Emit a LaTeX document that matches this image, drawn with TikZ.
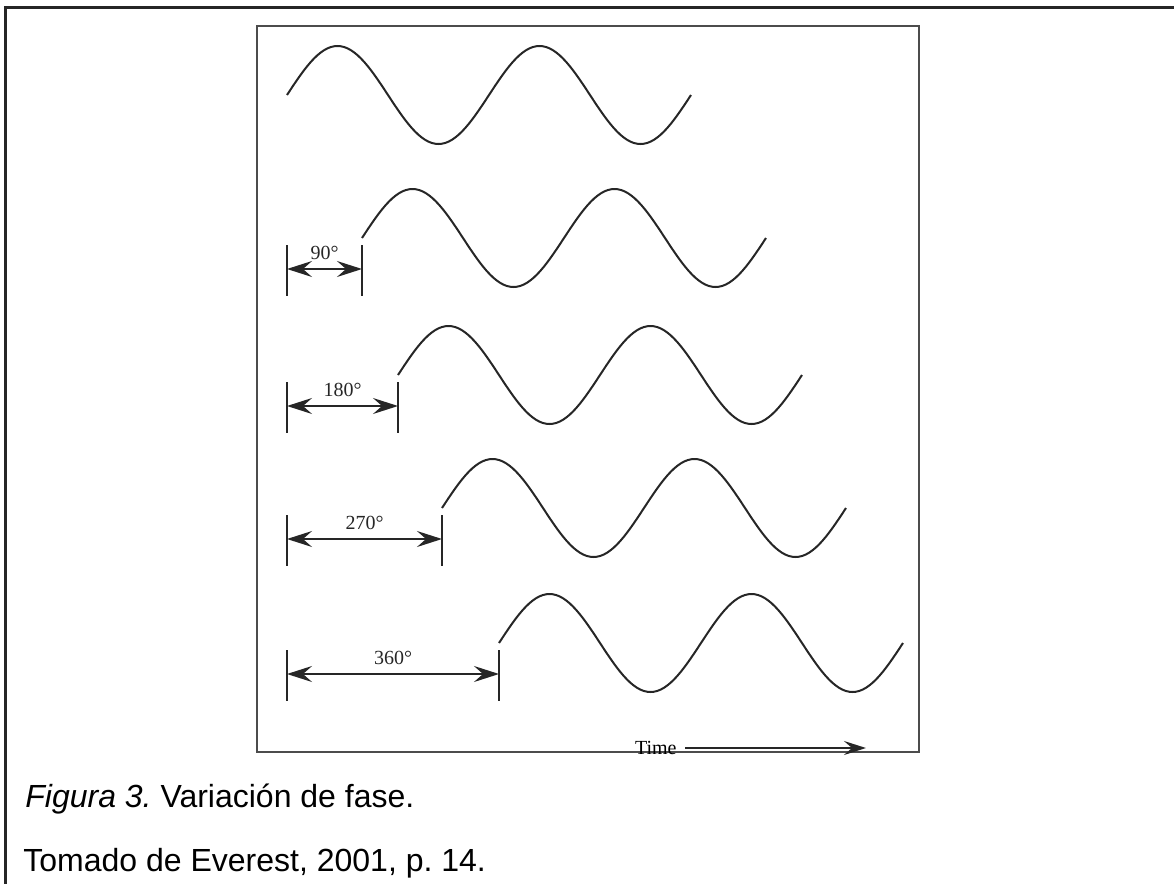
\documentclass[tikz,border=0pt]{standalone}
\usepackage{fontspec}
\setmainfont{Liberation Sans}
\newfontfamily\figfont{Liberation Serif}
\usetikzlibrary{arrows.meta}
\frenchspacing

\begin{document}
\begin{tikzpicture}[x=0.5pt,y=-0.5pt,
    wave/.style={line width=1pt, black!85},
    tickline/.style={line width=1pt, black!85},
    dim/.style={{Stealth[length=12.5pt,width=8pt,inset=4.5pt]}-{Stealth[length=12.5pt,width=8pt,inset=4.5pt]}, line width=1pt, black!85},
    timearrow/.style={-{Stealth[length=11pt,width=7pt,inset=4pt]}, line width=1pt, black!85},
    deg/.style={font=\figfont\fontsize{10}{12}\selectfont, inner sep=0pt},
    caption/.style={font=\fontsize{16}{19}\selectfont, anchor=base west, inner sep=0pt}]
    \useasboundingbox (0,0) rectangle (1174,884);
    % frames
    \draw[line width=1.5pt, black!85] (5,884) -- (5,7) -- (1174,7);
    \draw[line width=1.2pt, black!70] (257,26) rectangle (919,752);
    % the five waves
    \foreach \xs/\yc in {287/95, 362/238, 398/375, 442/508, 499/643} {
        \draw[wave] plot[domain=0:404, samples=121] ({\xs+\x}, {\yc-49*sin(\x*1.78218)});
    }
    % phase shifts
    \foreach \xe/\yc/\lbl in {362/238/90, 398/375/180, 442/508/270, 499/643/360} {
        \coordinate (s\lbl) at (287,\yc+31);
        \coordinate (e\lbl) at (\xe,\yc+31);
        \draw[tickline] (287,\yc+7) -- (287,\yc+58);
        \draw[tickline] (\xe,\yc+7) -- (\xe,\yc+58);
        \draw[dim] (s\lbl) -- node[deg, above=4pt]{\lbl°} (e\lbl);
    }
    % time axis
    \node[deg, anchor=east] (time) at (677,748) {Time};
    \coordinate (tend) at (866,748);
    \draw[timearrow] ([xshift=4pt]time.east) -- (tend);
    % caption
    \node[caption] (fig) at (25,807) {\textit{Figura 3.} Variación de fase.};
    \node[caption] (src) at (23,871) {Tomado de Everest, 2001, p. 14.};
\end{tikzpicture}
\end{document}
